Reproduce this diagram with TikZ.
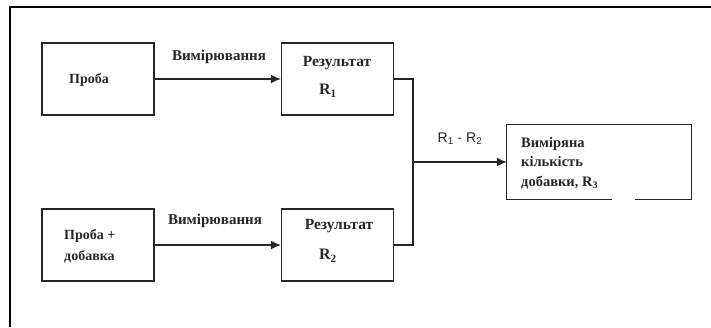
\documentclass[tikz,border=0pt]{standalone}
\usepackage{fontspec}
\setmainfont{Liberation Serif}
\setsansfont{Liberation Sans}
\usetikzlibrary{arrows.meta}
\tikzset{
  box/.style={draw=black!85, line width=1.3pt, minimum width=112pt, minimum height=72pt, inner sep=0pt},
  conn/.style={draw=black!85, line width=1.3pt},
  arr/.style={conn, -{Latex[length=10pt,width=9pt]}},
  txt/.style={font=\fontsize{14.5}{19.5}\selectfont\bfseries, inner sep=0pt, align=left, text=black!85},
  lbl/.style={font=\fontsize{15}{18}\selectfont\bfseries, inner sep=0pt, text=black!85}
}
\begin{document}
\begin{tikzpicture}[x=1pt,y=-1pt]
\useasboundingbox (0,0) rectangle (711,327);
\draw[line width=2.2pt] (10,327) -- (10,7) -- (711,7);
% boxes
\node[box] (p1) at (98,79) {};
\node[box] (r1) at (337.5,79) {};
\node[box] (p2) at (98,245) {};
\node[box] (r2) at (337.5,245) {};
\node[minimum width=184pt, minimum height=74pt, inner sep=0pt] (res) at (599,162) {};
\draw[conn] ([xshift=105pt]res.south west) -- (res.south west) -- (res.north west) -- (res.north east) -- (res.south east) -- ([xshift=128pt]res.south west);
% texts
\node[txt, anchor=west, font=\fontsize{14}{19}\selectfont\bfseries] (tp1) at (69,80) {Проба};
\node[txt, font=\fontsize{15.5}{19}\selectfont\bfseries] (tr1) at (337,63) {Результат};
\node[txt, font=\fontsize{16}{19}\selectfont\bfseries] (tr1b) at (328,91) {R\textsubscript{1}};
\node[txt, anchor=north west, font=\fontsize{14}{21}\selectfont\bfseries] (tp2) at (64,229) {Проба +\\добавка};
\node[txt, font=\fontsize{15.5}{19}\selectfont\bfseries] (tr2) at (339,226) {Результат};
\node[txt, font=\fontsize{16}{19}\selectfont\bfseries] (tr2b) at (328,256) {R\textsubscript{2}};
\node[txt, anchor=north west] (tres) at (521,137) {Виміряна\\кількість\\добавки, R\textsubscript{3}};
% connectors
\draw[arr] (p1) -- (r1);
\draw[arr] (p2) -- (r2);
\coordinate (j) at (413,162);
\draw[conn] (r1.east) -- (r1.east -| j) -- (r2.east -| j) -- (r2.east);
\draw[arr] (j) -- (res.west);
% labels
\node[lbl] (m1) at (219,57) {Вимірювання};
\node[lbl] (m2) at (215,221) {Вимірювання};
\node[lbl, font=\fontsize{14}{16}\selectfont\sffamily] (d) at (460,139) {R\textsubscript{1} - R\textsubscript{2}};
\end{tikzpicture}
\end{document}
